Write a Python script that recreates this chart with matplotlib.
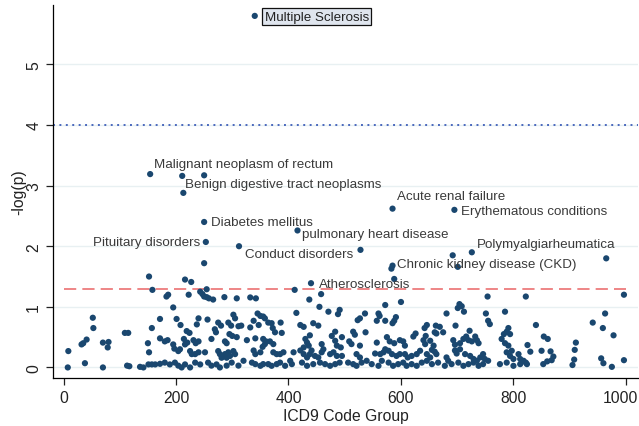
import matplotlib
matplotlib.use("Agg")
import matplotlib.pyplot as plt
from matplotlib.transforms import ScaledTranslation

plt.rcParams['font.family'] = ['Liberation Sans', 'DejaVu Sans']

# ICD9 code group vs -log(p)
icd9 = [
    # labelled / high points
    340, 154, 211, 250, 213, 250, 253, 312, 416, 585, 695, 726, 692, 701,
    965, 528, 585, 583, 588, 440,
    # 0 - 150
    152, 8.5, 7.5, 32, 35, 41, 38, 52, 53, 70, 80, 78.5, 70, 109, 115, 113,
    117, 136, 142, 150, 152, 151,
    # 150 - 320
    250, 216, 227, 158, 183, 186, 222.5, 243, 247, 250, 254.5, 258.5, 266,
    254.5, 286, 308, 195, 171.5, 201, 157, 208, 219, 224, 237, 240, 256, 275,
    280, 293, 298, 302, 305, 311, 316,
    171.5, 180, 185, 195, 197, 204, 207, 214, 216, 220, 231, 235, 240, 225,
    228, 234, 240, 251.5, 263, 269, 271, 287, 290, 295, 300, 308, 275, 278,
    281, 287, 290, 293, 296, 302, 305,
    157, 163, 171.5, 180, 189, 198, 204, 210, 216, 225, 234, 243, 257, 263,
    272, 278, 290, 299, 311, 320,
    # 320 - 490
    411, 332, 342, 437, 458, 455, 414, 471, 488, 338, 345, 350, 355, 358,
    364, 370, 332, 347, 372, 376, 386, 388, 421, 427, 444, 453, 438, 477,
    341, 355, 360, 358, 354, 326, 367, 373, 430, 433, 436, 427, 459, 462,
    483, 486, 338, 341, 350, 373, 379, 385, 391, 409, 421, 427, 433, 438,
    441, 447, 453, 459, 474, 480, 486,
    335, 341, 350, 355, 364, 370, 379, 385, 394, 403, 406, 424, 433, 444,
    456, 465, 474, 483, 491,
    # 490 - 660
    600, 572, 491, 536, 560, 562, 527, 523, 557, 572, 591, 588, 585, 537,
    515, 518, 483, 495, 646, 642, 626, 622, 644, 508, 512, 527, 557, 575,
    580, 588, 598, 604, 607, 640, 643, 652, 658, 634, 493, 495, 521, 527,
    554, 563, 569, 572, 578, 584, 592, 598, 607, 612, 619, 628, 646, 652,
    506, 515, 521, 530, 539, 548, 560, 566, 578, 586, 595, 604, 610, 619,
    628, 637, 646, 655,
    # 660 - 830
    754, 822, 704, 708, 701, 712, 681, 751, 785, 755, 758, 662, 669, 660,
    663, 675, 697, 722, 791, 788, 794, 783, 779, 693, 696, 705, 711, 716,
    720, 726, 732, 735, 738, 785, 791, 797, 655, 660, 663, 681, 684, 696,
    699, 705, 714, 723, 729, 735, 741, 746, 749, 788, 794, 800, 809, 812,
    818, 824,
    666, 678, 690, 702, 711, 720, 729, 738, 746, 755, 776, 788, 800, 812,
    # 830 - 1000
    996.5, 840, 963, 941, 959, 978, 854, 861, 825, 830, 850, 866, 911, 909,
    908, 905, 871, 868, 860, 853, 822, 956, 960, 975, 996.5,
]
neglogp = [
    5.80, 3.19, 3.16, 3.17, 2.88, 2.40, 2.07, 2.00, 2.26, 2.62, 2.60, 1.90, 1.85, 1.66,
    1.80, 1.94, 1.68, 1.63, 1.46, 1.39,
    1.50, 0.27, 0.0, 0.38, 0.40, 0.46, 0.07, 0.82, 0.65, 0.41, 0.42, 0.33, 0.0, 0.57, 0.57, 0.03,
    0.02, 0.01, 0.0, 0.40, 0.25, 0.05,
    1.72, 1.45, 1.41, 1.28, 1.17, 1.20, 1.20, 1.25, 1.21, 1.17, 1.16, 1.14, 1.12,
    1.29, 1.16, 1.14, 0.99, 0.80, 0.80, 0.65, 0.70, 0.60, 0.57, 0.71, 0.81, 0.79, 0.74,
    0.69, 0.74, 0.69, 0.87, 0.81, 0.68, 0.69,
    0.48, 0.43, 0.45, 0.38, 0.31, 0.27, 0.30, 0.47, 0.38, 0.41, 0.45, 0.40, 0.43, 0.27,
    0.22, 0.22, 0.25, 0.25, 0.47, 0.63, 0.58, 0.43, 0.40, 0.55, 0.52, 0.50, 0.27, 0.22,
    0.16, 0.22, 0.16, 0.25, 0.19, 0.27, 0.22,
    0.05, 0.05, 0.06, 0.08, 0.05, 0.08, 0.03, 0.0, 0.05, 0.0, 0.08, 0.05, 0.08, 0.03,
    0.05, 0.0, 0.03, 0.08, 0.03, 0.11,
    1.28, 1.155, 1.14, 1.12, 1.21, 1.00, 0.90, 0.92, 0.88, 0.77, 0.89, 0.85, 0.84, 0.81,
    0.74, 0.73, 0.66, 0.70, 0.65, 0.58, 0.74, 0.57, 0.70, 0.67, 0.73, 0.69, 0.53, 0.52,
    0.48, 0.47, 0.43, 0.385, 0.34, 0.45, 0.43, 0.385, 0.47, 0.41, 0.36, 0.33, 0.385, 0.30,
    0.44, 0.36, 0.28, 0.22, 0.25, 0.25, 0.22, 0.22, 0.25, 0.25, 0.28, 0.22, 0.165, 0.22,
    0.28, 0.19, 0.165, 0.25, 0.22, 0.25, 0.19,
    0.08, 0.055, 0.027, 0.055, 0.055, 0.027, 0.055, 0.08, 0.027, 0.11, 0.055, 0.08, 0.027, 0.055,
    0.08, 0.055, 0.027, 0.055, 0.08,
    1.08, 1.03, 0.95, 0.89, 0.89, 0.85, 0.81, 0.78, 0.77, 0.77, 0.83, 0.77, 0.73, 0.58,
    0.59, 0.54, 0.59, 0.50, 0.70, 0.65, 0.56, 0.51, 0.52, 0.43, 0.385, 0.36, 0.41, 0.50,
    0.43, 0.40, 0.45, 0.43, 0.36, 0.45, 0.385, 0.44, 0.36, 0.275, 0.33, 0.19, 0.22, 0.165,
    0.23, 0.22, 0.25, 0.30, 0.275, 0.22, 0.19, 0.22, 0.22, 0.165, 0.19, 0.22, 0.22, 0.165,
    0.08, 0.055, 0.027, 0.08, 0.11, 0.055, 0.027, 0.11, 0.08, 0.027, 0.055, 0.08, 0.027, 0.055,
    0.027, 0.08, 0.11, 0.055,
    1.17, 1.17, 1.045, 1.01, 0.98, 0.92, 0.89, 0.89, 0.92, 0.77, 0.715, 0.69, 0.67, 0.58,
    0.56, 0.58, 0.69, 0.605, 0.65, 0.59, 0.55, 0.55, 0.47, 0.45, 0.375, 0.40, 0.47, 0.51,
    0.45, 0.43, 0.51, 0.45, 0.40, 0.40, 0.36, 0.275, 0.29, 0.26, 0.22, 0.165, 0.11, 0.28,
    0.23, 0.30, 0.22, 0.19, 0.14, 0.11, 0.165, 0.22, 0.14, 0.25, 0.19, 0.14, 0.22, 0.14,
    0.11, 0.055,
    0.08, 0.027, 0.055, 0.08, 0.027, 0.055, 0.08, 0.027, 0.055, 0.11, 0.055, 0.08, 0.027, 0.055,
    1.20, 0.70, 0.89, 0.74, 0.65, 0.53, 0.51, 0.47, 0.37, 0.26, 0.275, 0.265, 0.41, 0.29,
    0.13, 0.04, 0.18, 0.12, 0.10, 0.055, 0.08, 0.15, 0.07, 0.01, 0.12,
]

# labels: (text, x, y, offset px right, offset px up, horizontal alignment)
labels = [
    ("Malignant neoplasm of rectum", 154, 3.19, 4, 10, "left"),
    ("Benign digestive tract neoplasms", 213, 2.88, 2, 9, "left"),
    ("Diabetes mellitus", 250, 2.40, 7, 0, "left"),
    ("Pituitary disorders", 253, 2.07, -6, 0, "right"),
    ("pulmonary heart disease", 416, 2.26, 5, -3.5, "left"),
    ("Conduct disorders", 312, 2.00, 6, -7.5, "left"),
    ("Acute renal failure", 585, 2.62, 4, 13, "left"),
    ("Erythematous conditions", 695, 2.60, 7, -1.5, "left"),
    ("Polymyalgiarheumatica", 726, 1.90, 5.5, 8, "left"),
    ("Chronic kidney disease (CKD)", 585, 1.68, 4, 1.5, "left"),
    ("Atherosclerosis", 440, 1.39, 7.5, -1, "left"),
]

fig = plt.figure(figsize=(6.39, 4.27), dpi=100)
ax = fig.add_axes([0.083, 0.112, 0.915, 0.874])

for yv in range(6):
    ax.axhline(yv, color="#e8f0f2", lw=1.0, zorder=0)
ax.axhline(4, color="#4a68bd", lw=1.4, ls=(0, (1, 2.3)), zorder=1)
ax.plot([0, 1000], [1.3, 1.3], color="#ea6466", lw=1.1, ls=(0, (8, 4)), zorder=1)

ax.scatter(icd9, neglogp, s=20, color="#1a476f", edgecolors="none", zorder=3)

px = 72 / 100
for txt, xv, yv, dx, dy, ha in labels:
    ax.annotate(txt, (xv, yv), xytext=(dx * px, dy * px), textcoords="offset points",
                ha=ha, va="center", fontsize=9.6, color="#3a3a3a", zorder=4)

ax.annotate("Multiple Sclerosis", (340, 5.80), xytext=(10 * px, -1 * px),
            textcoords="offset points", ha="left", va="center", fontsize=9.6,
            color="#222222", zorder=4,
            bbox=dict(boxstyle="square,pad=0.18", fc="#dfe5ee", ec="#111111", lw=0.9))

ax.set_xlim(-18.7, 1021)
ax.set_ylim(-0.177, 5.98)
ax.set_xticks(range(0, 1001, 200))
ax.set_yticks(range(0, 6))
ax.tick_params(axis="both", labelsize=11.3, length=5, width=0.9, colors="#222222")
ax.tick_params(axis="y", labelrotation=90)
for lab in ax.get_yticklabels():
    lab.set_va("center")
# the last x tick label sits a bit left so it fits inside the figure
last = ax.get_xticklabels()[-1]
last.set_transform(last.get_transform() + ScaledTranslation(-5 / 100, 0, fig.dpi_scale_trans))
ax.spines["top"].set_visible(False)
ax.spines["right"].set_visible(False)
ax.spines["left"].set_linewidth(0.9)
ax.spines["bottom"].set_linewidth(0.9)
ax.set_xlabel("ICD9 Code Group", fontsize=11.3, labelpad=2, color="#222222")
ax.set_ylabel("-log(p)", fontsize=11.3, labelpad=0, color="#222222")

fig.savefig("out.png", dpi=100)
